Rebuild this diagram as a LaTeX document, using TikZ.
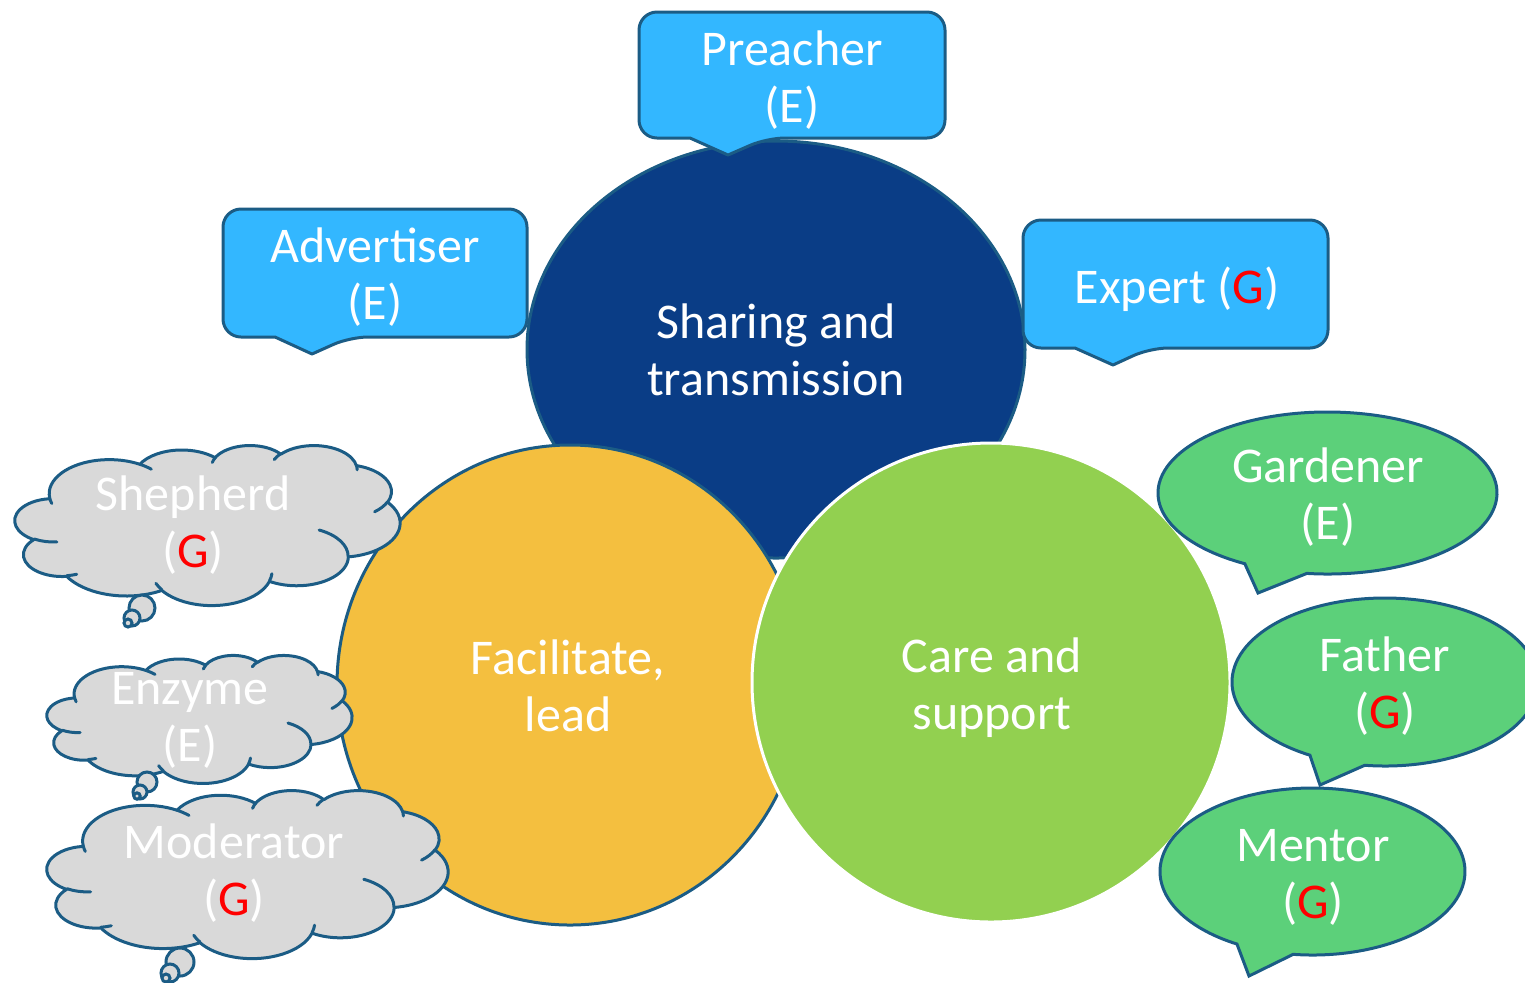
\documentclass[tikz,border=0pt]{standalone}
\usepackage{fontspec}
\setmainfont{Carlito}
\usetikzlibrary{shapes.geometric}
\definecolor{edge}{RGB}{27,92,133}
\definecolor{navy}{RGB}{10,61,134}
\definecolor{sun}{RGB}{244,191,63}
\definecolor{leaf}{RGB}{146,208,80}
\definecolor{sky}{RGB}{51,183,255}
\definecolor{mint}{RGB}{92,208,122}
\definecolor{fog}{RGB}{217,217,217}
\definecolor{gred}{RGB}{255,0,0}
\newcommand\fsz{\fontsize{25}{28.5}\selectfont}
\newcommand\redG{\textcolor{gred}{G}}
% arc given as in DrawingML (visual angles, y down)
\newcommand\carc[4]{ arc[start angle={-atan2((#1)*sin(#3),(#2)*cos(#3))}, delta angle={-mod(atan2((#1)*sin(#3+#4),(#2)*cos(#3+#4))-atan2((#1)*sin(#3),(#2)*cos(#3))+720,360)}, x radius={(#1)*\ux*1pt}, y radius={(#2)*\uy*1pt}] }
\newcommand\pptcloud[4]{%
  \pgfmathsetmacro\ux{#3/864}%
  \pgfmathsetmacro\uy{#4/864}%
  \begin{scope}[shift={(#1,#2)}, x=\ux pt, y=-\uy pt]
    \draw[cloudbody] (39.00,143.70) \carc{67.53}{91.90}{-190.48748}{123.78053}
      \carc{53.33}{72.67}{-144.10238}{89.94523}
      \carc{43.65}{59.45}{-145.80792}{99.72302}
      \carc{48.57}{65.95}{-130.98607}{117.24173}
      \carc{53.33}{72.73}{-78.70888}{109.02692}
      \carc{67.75}{92.20}{-46.26725}{130.269}
      \carc{57.85}{78.67}{0.62502}{114.03333}
      \carc{67.52}{92.15}{22.4516}{115.17255}
      \carc{77.20}{105.43}{66.24263}{75.71102}
      \carc{43.60}{59.18}{-274.94208}{146.73557}
      \carc{43.45}{59.45}{-246.8285}{152.51885} -- cycle;
  \end{scope}}
\newcommand\pptcloudinner[4]{%
  \pgfmathsetmacro\ux{#3/864}%
  \pgfmathsetmacro\uy{#4/864}%
  \begin{scope}[shift={(#1,#2)}, x=\ux pt, y=-\uy pt]
    \draw[cloudarcs] (46.93,261.77) \carc{43.45}{59.45}{86.742}{26.4295}
      (69.28,348.99) \carc{43.60}{59.18}{73.61047}{11.44747}
      (164.78,390.90) \carc{67.52}{92.15}{137.62415}{14.0811}
      (288.27,347.51) \carc{67.52}{92.15}{6.45327}{15.99835}
      (341.29,229.54) \carc{57.85}{78.67}{-70.29235}{70.91737}
      (417.98,153.54) \carc{53.33}{72.73}{30.31803}{27.7515}
      (383.24,54.26) \carc{48.57}{65.95}{-13.74433}{14.8589}
      (290.78,39.52) \carc{48.57}{65.95}{-149.18145}{18.19537}
      (221.41,47.20) \carc{43.65}{59.45}{-163.49427}{17.68635}
      (140.00,51.92) \carc{67.53}{91.90}{-66.70695}{12.31935}
      (41.27,157.89) \carc{67.53}{91.90}{157.65435}{11.85817};
  \end{scope}}
\begin{document}
\begin{tikzpicture}[x=0.5pt,y=-0.5pt,
  every node/.style={inner sep=0pt, outer sep=0pt},
  txt/.style={text=white, font=\fsz, align=center},
  big/.style={ellipse, line width=1.5pt, txt},
  callout/.style={draw=edge, fill=sky, line width=1.5pt, line join=round},
  bubble/.style={draw=edge, fill=mint, line width=1.5pt, line join=miter},
  cloudbody/.style={draw=edge, fill=fog, line width=1.5pt, line join=round},
  cloudarcs/.style={draw=edge, line width=1.5pt, line cap=round},
  tail/.style={draw=edge, fill=fog, line width=1.5pt}]
\useasboundingbox (0,0) rectangle (1525,982);

% main circles
\node[big, draw=edge, fill=navy, minimum width=249pt, minimum height=208.5pt] (share) at (776,349.5) {Sharing and\\transmission};

% callouts
\draw[callout] (728,155) -- (690,138) [rounded corners=9pt] -- (639,138) -- (639,12) -- (945,12) -- (945,138) -- (767,138) [sharp corners] -- cycle;
\node[txt] (preacher) at (792,80) {Preacher\\(E)};
\draw[callout] (312,354) -- (275,337) [rounded corners=9pt] -- (223,337) -- (223,209) -- (527,209) -- (527,337) -- (350,337) [sharp corners] -- cycle;
\node[txt] (advertiser) at (375,277) {Advertiser\\(E)};
\draw[callout] (1113,365) -- (1075,348) [rounded corners=9pt] -- (1023,348) -- (1023,220) -- (1328,220) -- (1328,348) -- (1150,348) [sharp corners] -- cycle;
\node[txt] (expert) at (1177,289) {Expert (\redG)};

\node[big, draw=edge, fill=sun, minimum width=233pt, minimum height=240pt] (facil) at (570,685) {};
\node[txt] (facilt) at (568,686) {Facilitate,\\lead};
\node[big, draw=white, fill=leaf, minimum width=239pt, minimum height=239.5pt] (care) at (991,682.5) {};
\node[txt] (caret) at (992,688) {Care and\\support};

% clouds
\pptcloud{15}{445}{385}{160}
\draw[tail] (142,608) circle[radius=6.5pt];
\draw[tail] (132,618) circle[radius=4pt];
\draw[tail] (128,623) circle[radius=2pt];
\pptcloudinner{15}{445}{385}{160}
\node[txt] (shepherd) at (193,525) {Shepherd\\(\redG)};

\pptcloud{47}{655}{305}{128}
\draw[tail] (147,782) circle[radius=5pt];
\draw[tail] (140,792) circle[radius=3.5pt];
\draw[tail] (137,796) circle[radius=1.6pt];
\pptcloudinner{47}{655}{305}{128}
\node[txt] (enzyme) at (190,720) {Enzyme\\(E)};

\pptcloud{47}{790}{401}{168}
\draw[tail] (180,962) circle[radius=7pt];
\draw[tail] (170,973) circle[radius=4.5pt];
\draw[tail] (166,978) circle[radius=2pt];
\pptcloudinner{47}{790}{401}{168}
\node[txt] (moderator) at (234,873) {Moderator\\(\redG)};

% speech bubbles
\coordinate (gc) at (1327.5,493);
\draw[bubble] ([shift={(263:84.75pt and 40.5pt)}]gc) arc[start angle=263, end angle=600.8, x radius=84.75pt, y radius=40.5pt] -- (1258,593) -- cycle;
\node[txt] (gardener) at (1328,497) {Gardener\\(E)};
\coordinate (fc) at (1385,682);
\draw[bubble] ([shift={(262.4:76.5pt and 42pt)}]fc) arc[start angle=262.4, end angle=600.6, x radius=76.5pt, y radius=42pt] -- (1320,785) -- cycle;
\node[txt] (father) at (1385,686) {Father\\(\redG)};
\coordinate (mc) at (1312.5,871.5);
\draw[bubble] ([shift={(262.7:76.25pt and 41.75pt)}]mc) arc[start angle=262.7, end angle=600.3, x radius=76.25pt, y radius=41.75pt] -- (1249,976) -- cycle;
\node[txt] (mentor) at (1313,877) {Mentor\\(\redG)};
\end{tikzpicture}
\end{document}
